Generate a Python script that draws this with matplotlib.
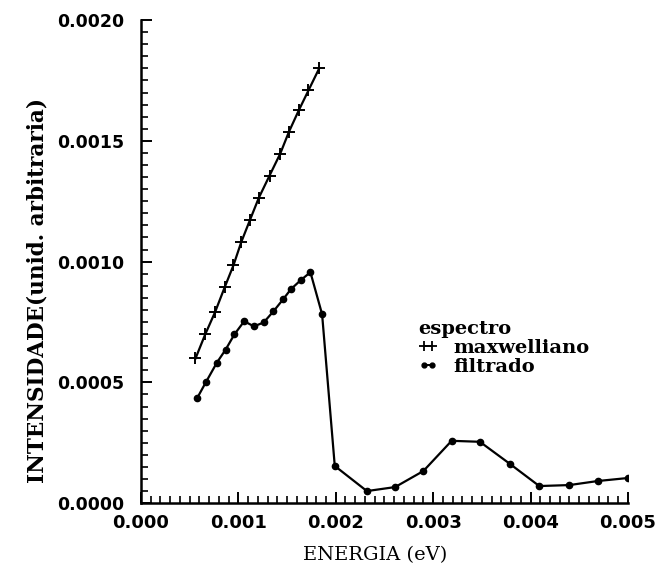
import matplotlib
matplotlib.use("Agg")
import matplotlib.pyplot as plt
from matplotlib.ticker import MultipleLocator, FormatStrFormatter
from matplotlib.lines import Line2D

# Maxwellian spectrum
energia_max = [0.00056, 0.00066, 0.00076, 0.00086, 0.00095, 0.00103, 0.00112,
               0.00121, 0.00132, 0.00143, 0.00152, 0.00162, 0.00172, 0.00183]
intens_max = [0.000599, 0.000699, 0.000790, 0.000894, 0.000985, 0.001081, 0.001173,
              0.001264, 0.001356, 0.001447, 0.001538, 0.001626, 0.001709, 0.001800]

# Filtered spectrum
energia_filt = [0.00058, 0.00067, 0.00078, 0.00087, 0.00096, 0.00106, 0.00116,
                0.00126, 0.00136, 0.00146, 0.00154, 0.00164, 0.00174, 0.00186,
                0.00199, 0.00232, 0.00261, 0.00290, 0.00319, 0.00348, 0.00379,
                0.00409, 0.00440, 0.00469, 0.00500]
intens_filt = [0.000437, 0.000503, 0.000582, 0.000636, 0.000699, 0.000753, 0.000732,
               0.000748, 0.000794, 0.000844, 0.000886, 0.000923, 0.000956, 0.000782,
               0.000154, 0.0000499, 0.0000665, 0.000133, 0.000258, 0.000254, 0.000162,
               0.0000707, 0.0000748, 0.0000915, 0.000104]

x_ticks = [0.000, 0.001, 0.002, 0.003, 0.004, 0.005]
y_ticks = [0.0000, 0.0005, 0.0010, 0.0015, 0.0020]

fig = plt.figure(figsize=(6.68, 5.75), dpi=100)
ax = fig.add_axes([0.211, 0.125, 0.729, 0.840])

ax.plot(energia_max, intens_max, color="black", lw=1.6, marker="+", ms=9, mew=1.4)
ax.plot(energia_filt, intens_filt, color="black", lw=1.6, marker="o", ms=4.5)

ax.set_xlim(0, 0.005)
ax.set_ylim(0, 0.0020)
ax.set_xticks(x_ticks)
ax.set_yticks(y_ticks)
ax.xaxis.set_major_formatter(FormatStrFormatter("%.3f"))
ax.yaxis.set_major_formatter(FormatStrFormatter("%.4f"))
ax.xaxis.set_minor_locator(MultipleLocator(0.0001))
ax.yaxis.set_minor_locator(MultipleLocator(0.00005))

for s in ["top", "right"]:
    ax.spines[s].set_visible(False)
for s in ["left", "bottom"]:
    ax.spines[s].set_linewidth(1.8)

ax.tick_params(axis="both", which="major", direction="in", length=8, width=1.4)
ax.tick_params(axis="both", which="minor", direction="in", length=5, width=1.2)
ax.tick_params(axis="y", which="major", pad=12)
ax.tick_params(axis="x", which="major", pad=8)
for lab in ax.get_xticklabels():
    lab.set_fontfamily("DejaVu Sans")
    lab.set_fontweight("bold")
    lab.set_fontsize(13)
for lab in ax.get_yticklabels():
    lab.set_fontfamily("DejaVu Sans")
    lab.set_fontweight("bold")
    lab.set_fontsize(12.5)
    lab.set_verticalalignment("center_baseline")

ax.set_xlabel("ENERGIA (eV)", family="DejaVu Serif", fontsize=14)
ax.xaxis.set_label_coords(0.48, -0.088)
ax.set_ylabel("INTENSIDADE(unid. arbitraria)", family="DejaVu Serif", fontsize=15.5,
              fontweight="bold")
ax.yaxis.set_label_coords(-0.19, 0.44)

handles = [Line2D([], [], color="black", lw=1.4, marker="+", ms=7, mew=1.3),
           Line2D([], [], color="black", lw=1.4, marker="o", ms=3.5)]
leg = ax.legend(handles, ["maxwelliano", "filtrado"], title="espectro",
                loc="upper left", bbox_to_anchor=(0.553, 0.395), frameon=False,
                handlelength=1.0, handletextpad=0.8, borderaxespad=0,
                labelspacing=0.05, numpoints=2,
                prop={"family": "DejaVu Serif", "weight": "bold", "size": 14})
leg.get_title().set_fontfamily("DejaVu Serif")
leg.get_title().set_fontweight("bold")
leg.get_title().set_fontsize(14)
leg._legend_box.align = "left"

fig.savefig("out.png", dpi=100)
